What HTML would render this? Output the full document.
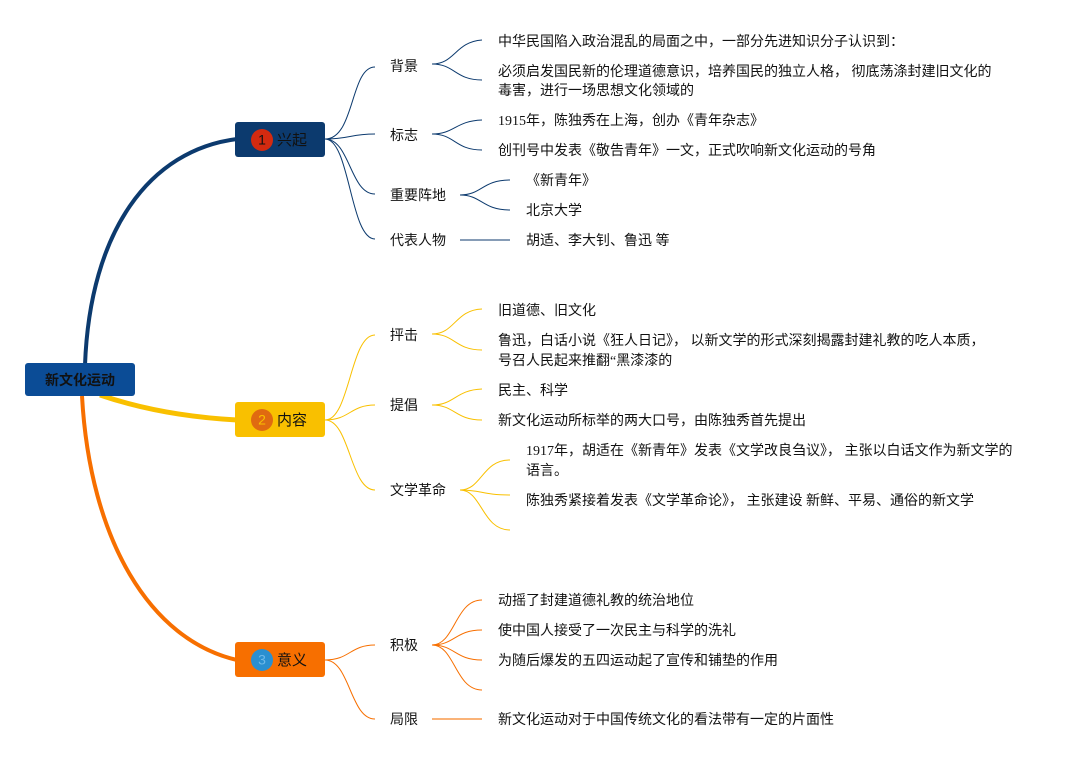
<!DOCTYPE html>
<html><head><meta charset="utf-8"><style>
html,body{margin:0;padding:0;background:#fff;width:1085px;height:760px;overflow:hidden}
svg text{font-family:"Liberation Serif","Noto Sans CJK SC",sans-serif;font-size:14px;fill:#111;dominant-baseline:middle}
</style></head><body>
<svg width="1085" height="760" viewBox="0 0 1085 760" xmlns="http://www.w3.org/2000/svg">
<path d="M85 365 C90 230 150 150 237 139" stroke="#0c3a6e" stroke-width="4" fill="none"/>
<path d="M100 395 C150 412 200 418 237 420" stroke="#f9c000" stroke-width="5" fill="none"/>
<path d="M82 396 C90 540 150 640 237 660" stroke="#f76f00" stroke-width="4" fill="none"/>
<rect x="25" y="363" width="110" height="33" rx="3" fill="#0b4c96"/>
<text x="80" y="381" text-anchor="middle" style="font-weight:bold;font-size:14px;fill:#111;font-family:'Noto Sans CJK SC',sans-serif">新文化运动</text>
<rect x="235" y="122" width="90" height="35" rx="3" fill="#0c3a6e"/>
<circle cx="262" cy="140" r="11" fill="#d42a10"/>
<text x="262" y="141" text-anchor="middle" style="font-size:14px;font-family:'Liberation Sans',sans-serif">1</text>
<text x="277" y="141" style="font-size:15px;font-family:'Noto Sans CJK SC',sans-serif">兴起</text>
<rect x="235" y="402" width="90" height="35" rx="3" fill="#f9c000"/>
<circle cx="262" cy="420" r="11" fill="#e06a10"/>
<text x="262" y="421" text-anchor="middle" style="font-size:14px;fill:#f9c000;font-family:'Liberation Sans',sans-serif">2</text>
<text x="277" y="421" style="font-size:15px;font-family:'Noto Sans CJK SC',sans-serif">内容</text>
<rect x="235" y="642" width="90" height="35" rx="3" fill="#f76f00"/>
<circle cx="262" cy="660" r="11" fill="#2a8fd0"/>
<text x="262" y="661" text-anchor="middle" style="font-size:14px;fill:#6cb8e8;font-family:'Liberation Sans',sans-serif">3</text>
<text x="277" y="661" style="font-size:15px;font-family:'Noto Sans CJK SC',sans-serif">意义</text>

<g stroke="#0c3a6e" stroke-width="1" fill="none">
<path d="M325 139 C355 139 350 67 375 67"/>
<path d="M325 139 C350 139 350 134 375 134"/>
<path d="M325 139 C350 139 350 194 375 194"/>
<path d="M325 139 C350 139 350 239 375 239"/>
<path d="M432 64 C455 64 455 42 482 40"/>
<path d="M432 64 C455 64 455 80 482 80"/>
<path d="M432 134 C455 134 455 121 482 120"/>
<path d="M432 134 C455 134 455 150 482 150"/>
<path d="M460 195 C482 195 482 180 510 180"/>
<path d="M460 195 C482 195 482 210 510 210"/>
<path d="M460 240 L510 240"/>
</g>
<text x="390" y="68">背景</text>
<text x="390" y="137">标志</text>
<text x="390" y="197">重要阵地</text>
<text x="390" y="242">代表人物</text>
<text x="498" y="43">中华民国陷入政治混乱的局面之中，一部分先进知识分子认识到：</text>
<text x="498" y="73">必须启发国民新的伦理道德意识，培养国民的独立人格， 彻底荡涤封建旧文化的</text>
<text x="498" y="92">毒害，进行一场思想文化领域的</text>
<text x="498" y="122">1915年，陈独秀在上海，创办《青年杂志》</text>
<text x="498" y="152">创刊号中发表《敬告青年》一文，正式吹响新文化运动的号角</text>
<text x="526" y="182">《新青年》</text>
<text x="526" y="212">北京大学</text>
<text x="526" y="242">胡适、李大钊、鲁迅 等</text>

<g stroke="#f9c000" stroke-width="1" fill="none">
<path d="M325 420 C350 420 350 335 375 335"/>
<path d="M325 420 C350 420 350 405 375 405"/>
<path d="M325 420 C350 420 350 490 375 490"/>
<path d="M432 334 C455 334 455 310 482 309"/>
<path d="M432 334 C455 334 455 350 482 350"/>
<path d="M432 405 C455 405 455 390 482 389"/>
<path d="M432 405 C455 405 455 420 482 420"/>
<path d="M460 490 C482 490 482 460 510 460"/>
<path d="M460 490 C482 490 482 495 510 495"/>
<path d="M460 490 C482 490 482 530 510 530"/>
</g>
<text x="390" y="337">抨击</text>
<text x="390" y="407">提倡</text>
<text x="390" y="492">文学革命</text>
<text x="498" y="312">旧道德、旧文化</text>
<text x="498" y="342">鲁迅，白话小说《狂人日记》， 以新文学的形式深刻揭露封建礼教的吃人本质，</text>
<text x="498" y="362">号召人民起来推翻“黑漆漆的</text>
<text x="498" y="392">民主、科学</text>
<text x="498" y="422">新文化运动所标举的两大口号，由陈独秀首先提出</text>
<text x="526" y="452">1917年，胡适在《新青年》发表《文学改良刍议》， 主张以白话文作为新文学的</text>
<text x="526" y="472">语言。</text>
<text x="526" y="502">陈独秀紧接着发表《文学革命论》， 主张建设 新鲜、平易、通俗的新文学</text>

<g stroke="#f76f00" stroke-width="1" fill="none">
<path d="M325 660 C350 660 350 645 375 645"/>
<path d="M325 660 C350 660 350 719 375 719"/>
<path d="M432 645 C455 645 455 600 482 600"/>
<path d="M432 645 C455 645 455 630 482 630"/>
<path d="M432 645 C455 645 455 660 482 660"/>
<path d="M432 645 C455 645 455 690 482 690"/>
<path d="M432 719 L482 719" stroke-width="1.5" opacity="0.7"/>
</g>
<text x="390" y="647">积极</text>
<text x="390" y="721">局限</text>
<text x="498" y="602">动摇了封建道德礼教的统治地位</text>
<text x="498" y="632">使中国人接受了一次民主与科学的洗礼</text>
<text x="498" y="662">为随后爆发的五四运动起了宣传和铺垫的作用</text>
<text x="498" y="721">新文化运动对于中国传统文化的看法带有一定的片面性</text>
</svg>
</body></html>
